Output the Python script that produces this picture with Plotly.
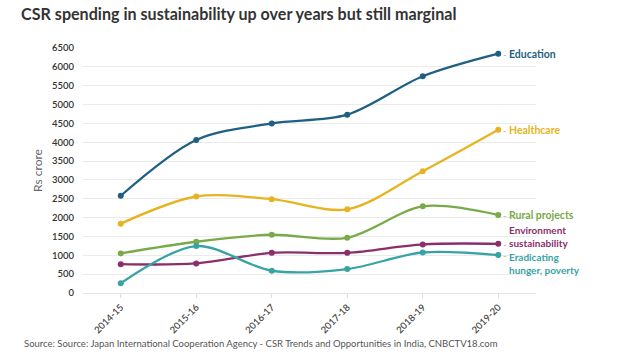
import plotly.graph_objects as go

years = ["2014-15", "2015-16", "2016-17", "2017-18", "2018-19", "2019-20"]
education = [2580, 4060, 4500, 4730, 5750, 6350]
healthcare = [1840, 2560, 2490, 2220, 3230, 4330]
rural = [1050, 1360, 1545, 1465, 2300, 2070]
environment = [765, 785, 1065, 1065, 1290, 1305]
hunger = [260, 1245, 590, 635, 1075, 1005]

series_names = ["Education", "Healthcare", "Rural projects",
                "Environment<br>sustainability", "Eradicating<br>hunger, poverty"]
series_values = [education, healthcare, rural, environment, hunger]
colors = ["#1f5f82", "#e8b320", "#78ab48", "#8a2f6c", "#38a3a5"]
label_yshift = [0, 0, 0, 7, -8]
label_size = [10.5, 10.5, 10.5, 10, 10]

FONT = "Lato"

fig = go.Figure()
for name, vals, col in zip(series_names, series_values, colors):
    fig.add_trace(go.Scatter(
        x=years, y=vals, mode="lines+markers", name=name,
        line=dict(color=col, width=2.3, shape="spline", smoothing=0.9),
        marker=dict(color=col, size=6), showlegend=False, cliponaxis=False,
        hoverinfo="skip",
    ))

for name, vals, col, ys, fs in zip(series_names, series_values, colors,
                                   label_yshift, label_size):
    fig.add_annotation(
        x=years[-1], y=vals[-1], xref="x", yref="y",
        text="<b>" + name + "</b>", showarrow=False,
        xanchor="left", yanchor="middle", align="left",
        xshift=9, yshift=ys,
        font=dict(family=FONT, size=fs, color=col),
    )
    fig.add_annotation(
        x=years[-1], y=vals[-1], xref="x", yref="y",
        text="-", showarrow=False, xanchor="left", yanchor="middle",
        xshift=3, yshift=0, font=dict(family=FONT, size=10, color="#b0b0b0"),
    )

fig.update_layout(
    width=639, height=360,
    margin=dict(l=83, r=103, t=48, b=67),
    paper_bgcolor="white", plot_bgcolor="white",
    font=dict(family=FONT, color="#333333"),
    title=dict(
        text="<b>CSR spending in sustainability up over years but still marginal</b>",
        x=0.033, xanchor="left", y=0.975, yanchor="top",
        font=dict(family=FONT, size=16.1, color="#333333"),
    ),
    xaxis=dict(
        type="category", range=[-0.5, 5.5], tickangle=-45,
        showgrid=False, showline=False, zeroline=False,
        ticks="outside", ticklen=4, tickcolor="#dddddd",
        tickfont=dict(family=FONT, size=9.5, color="#444444", weight=600),
    ),
    yaxis=dict(
        range=[0, 6500], tickvals=list(range(0, 7000, 500)),
        showgrid=True, gridcolor="#ebebeb", gridwidth=1,
        zeroline=True, zerolinecolor="#e5e5e5", zerolinewidth=1,
        tickfont=dict(family=FONT, size=9.5, color="#333333", weight=600),
        ticklabelstandoff=8,
        title=dict(text="Rs crore", standoff=6,
                   font=dict(family=FONT, size=12, color="#666666")),
    ),
)

fig.add_annotation(
    text="Source: Source: Japan International Cooperation Agency - CSR Trends and Opportunities in India, CNBCTV18.com",
    xref="paper", yref="paper", x=-0.135, y=-0.175, xanchor="left", yanchor="top",
    showarrow=False, font=dict(family=FONT, size=9.5, color="#555555"),
)

fig.write_html("out.html", config={"displayModeBar": False},
               post_script="document.body.style.margin='0';")
